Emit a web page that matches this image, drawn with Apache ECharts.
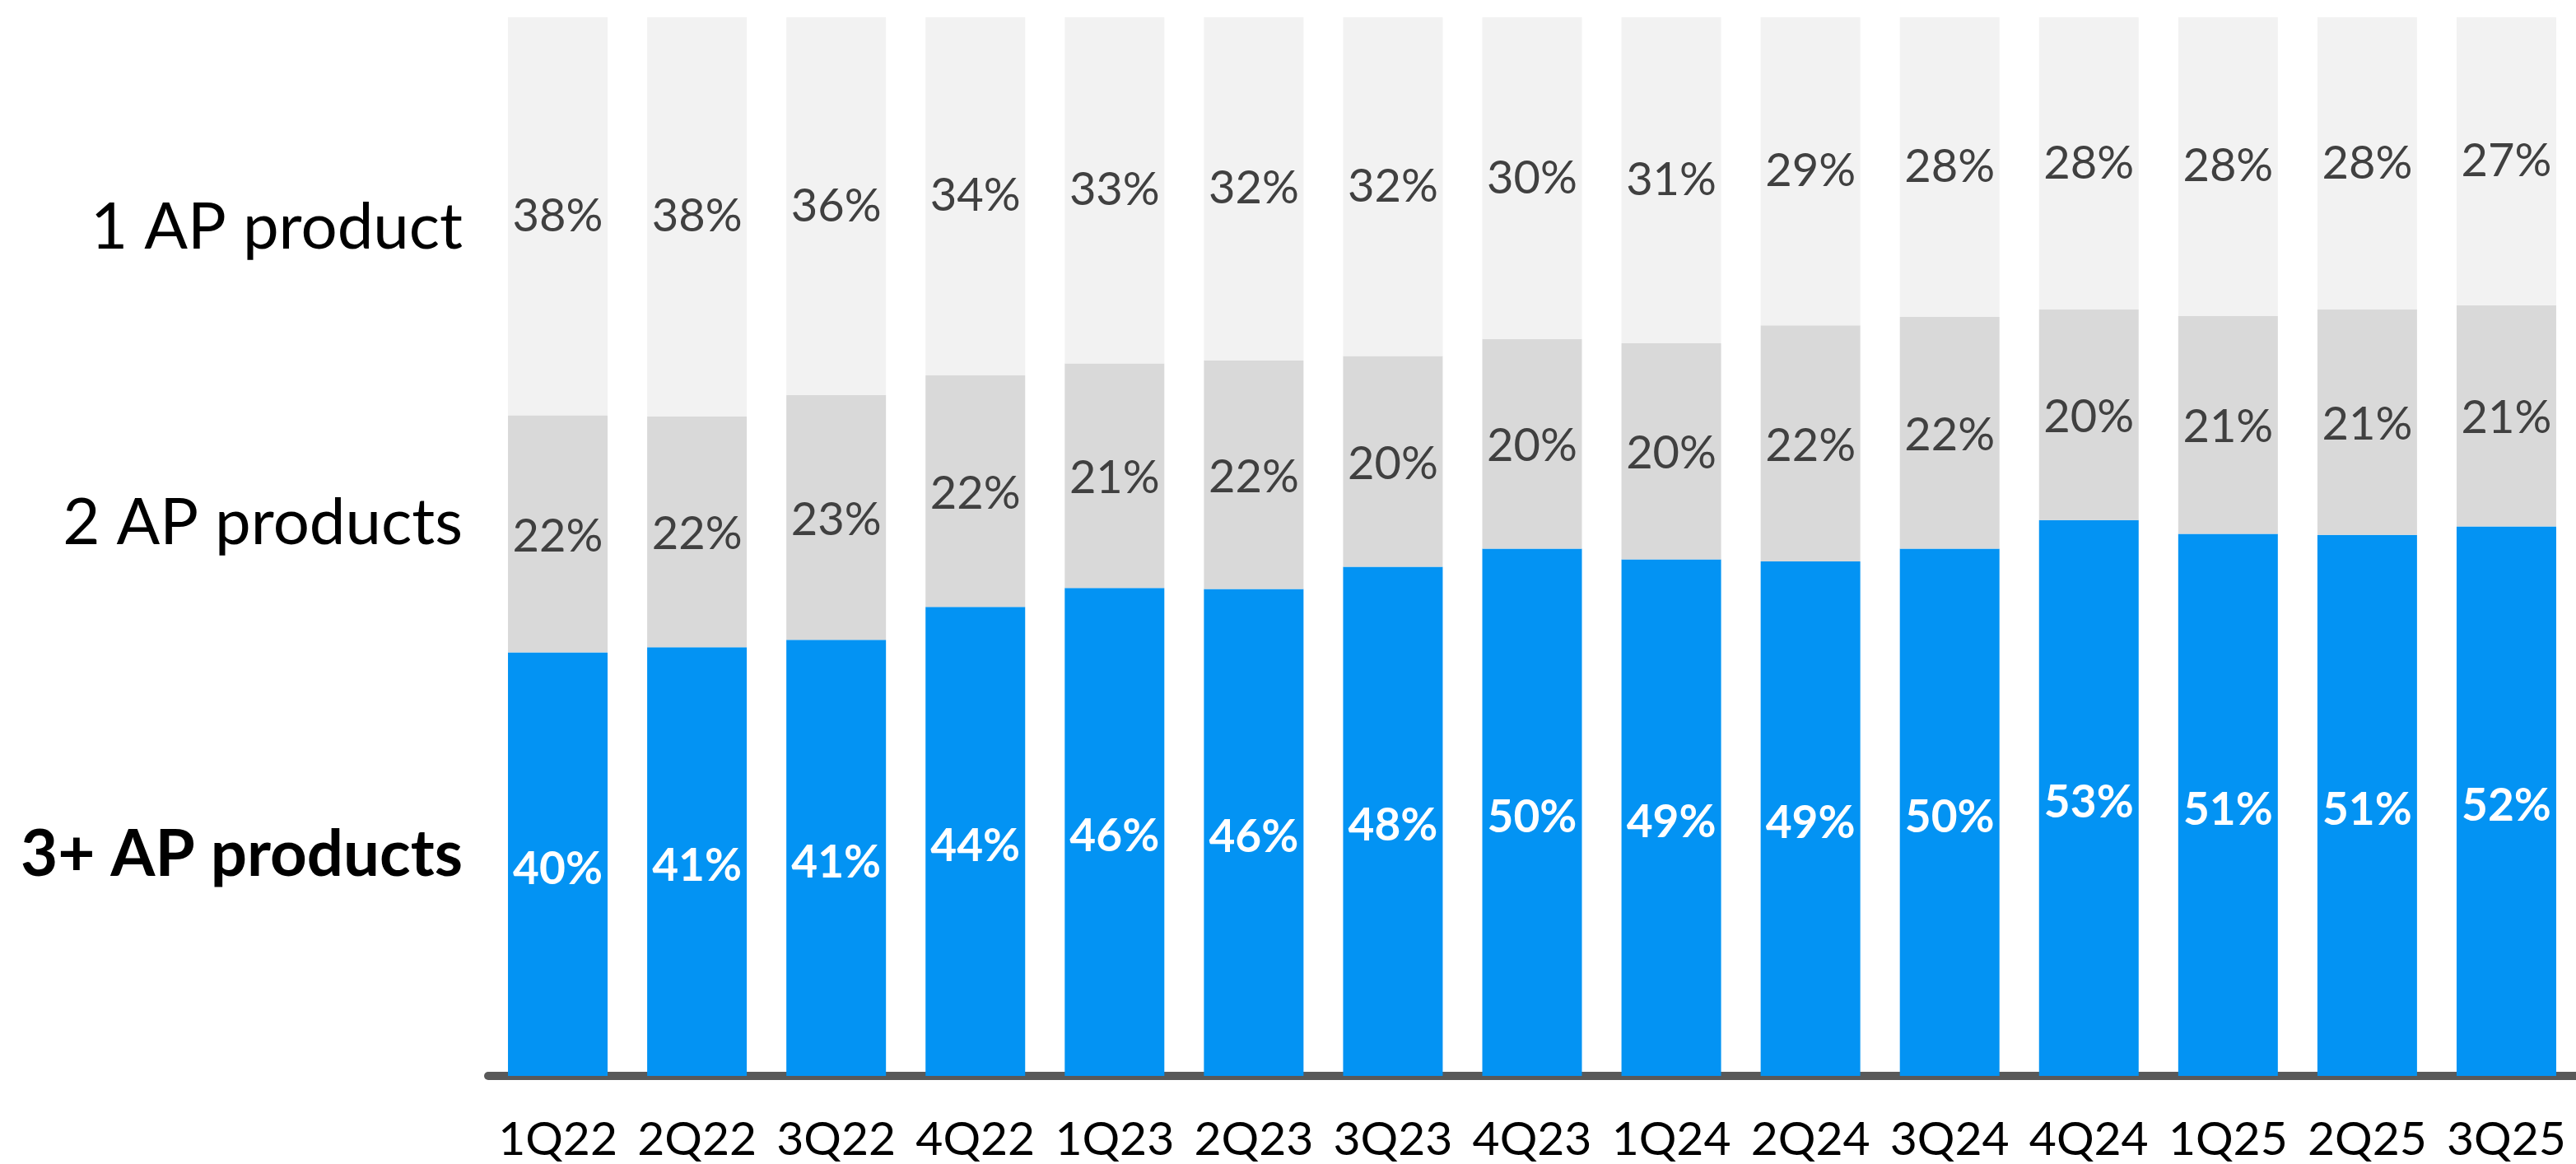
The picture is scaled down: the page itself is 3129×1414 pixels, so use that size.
<!DOCTYPE html>
<html>
<head>
<meta charset="utf-8">
<script src="https://cdn.jsdelivr.net/npm/echarts@6/dist/echarts.min.js"></script>
<style>
    html, body { margin: 0; padding: 0; background: #fff; }
    #apChart { width: 3129px; height: 1414px; }
</style>
</head>
<body>
<div id="apChart"></div>
<script>
// quarters on the x axis
var quarters = ['1Q22', '2Q22', '3Q22', '4Q22', '1Q23', '2Q23', '3Q23', '4Q23',
                '1Q24', '2Q24', '3Q24', '4Q24', '1Q25', '2Q25', '3Q25'];

// share of customers (%)
var threePlus = [40.0, 40.5, 41.2, 44.3, 46.1, 46.0, 48.1, 49.8, 48.8, 48.6, 49.8, 52.5, 51.2, 51.1, 51.9];
var twoProd   = [22.4, 21.8, 23.1, 21.9, 21.2, 21.6, 19.9, 19.8, 20.4, 22.3, 21.9, 19.9, 20.6, 21.3, 20.9];
var oneProd   = [37.6, 37.7, 35.7, 33.8, 32.7, 32.4, 32.0, 30.4, 30.8, 29.1, 28.3, 27.6, 28.2, 27.6, 27.2];

var seriesNames = ['3+ AP products', '2 AP products', '1 AP product'];

var FONT = 'Lato, "Open Sans", sans-serif';

function pct(p) {
    return Math.round(p.value) + '%';
}

let myChart = echarts.init(document.getElementById('apChart'));
myChart.setOption({
    animation: false,
    grid: {
        left: 593,
        right: 0,
        top: 21,
        bottom: 107
    },
    xAxis: {
        type: 'category',
        data: quarters,
        offset: 5,
        axisLine: { lineStyle: { color: '#595959', width: 10 } },
        axisTick: { show: false },
        axisLabel: {
            interval: 0,
            color: '#000',
            fontSize: 57,
            fontFamily: FONT,
            margin: 44
        }
    },
    yAxis: {
        type: 'value',
        min: 0,
        max: 100,
        show: false
    },
    series: [
        {
            name: seriesNames[0],
            type: 'bar',
            stack: 'all',
            barWidth: 121,
            data: threePlus,
            itemStyle: { color: '#0393F3' },
            label: {
                show: true,
                position: 'inside',
                offset: [0, 6],
                color: '#fff',
                fontSize: 55,
                fontWeight: 'bold',
                fontFamily: FONT,
                formatter: pct
            }
        },
        {
            name: seriesNames[1],
            type: 'bar',
            stack: 'all',
            barWidth: 121,
            data: twoProd,
            itemStyle: { color: '#D9D9D9' },
            label: {
                show: true,
                position: 'inside',
                offset: [0, 3],
                color: '#404040',
                fontSize: 56,
                fontFamily: FONT,
                formatter: pct
            }
        },
        {
            name: seriesNames[2],
            type: 'bar',
            stack: 'all',
            barWidth: 121,
            data: oneProd,
            itemStyle: { color: '#F2F2F2' },
            label: {
                show: true,
                position: 'inside',
                color: '#404040',
                fontSize: 56,
                fontFamily: FONT,
                formatter: pct
            }
        }
    ],
    // row labels on the left
    graphic: [
        {
            type: 'text', right: 3129 - 562, top: 238,
            style: { text: seriesNames[2], font: '78px ' + FONT, fill: '#000' }
        },
        {
            type: 'text', right: 3129 - 562, top: 597,
            style: { text: seriesNames[1], font: '78px ' + FONT, fill: '#000' }
        },
        {
            type: 'text', right: 3129 - 562, top: 1000,
            style: { text: seriesNames[0], font: 'bold 78px ' + FONT, fill: '#000' }
        }
    ]
});
</script>
</body>
</html>
